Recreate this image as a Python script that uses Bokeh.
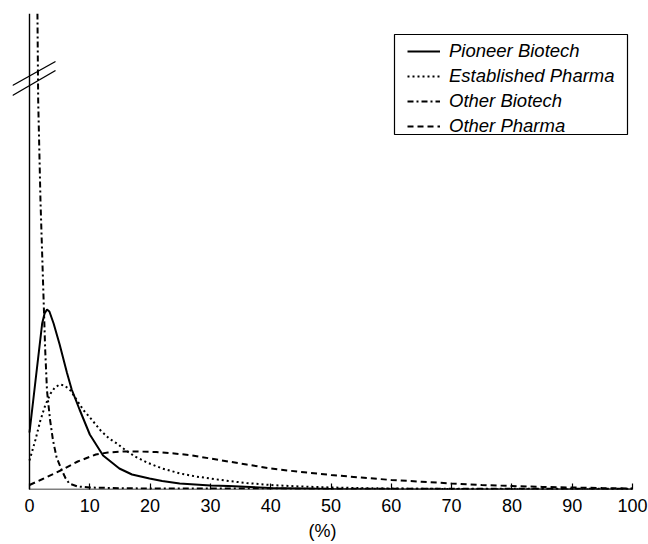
from bokeh.plotting import figure
from bokeh.models import Range1d, FixedTicker, Legend, LegendItem
from bokeh.embed import file_html
from bokeh.resources import INLINE

# ---- data (density curves, arbitrary height units) ----
pioneer_x = [0, 1, 2.1, 2.5, 2.9, 3.3, 4, 5, 6.2, 7, 8.3, 10, 12.2, 14.9, 17, 19.9, 22, 24.9, 30, 33, 40, 50, 60, 100]
pioneer_y = [57, 109, 166, 176, 180, 178, 166, 145, 117, 100, 80, 55, 34, 21, 15, 11, 8.5, 6, 4, 3.5, 1.5, 0.5, 0.2, 0]

established_x = [0, 1, 1.8, 2.6, 3.5, 4.2, 5, 5.8, 6.8, 8, 9, 10.3, 11.8, 13.2, 14.5, 16, 17.5, 19.5, 22, 25,
                 27.6, 30, 33, 36, 40, 45, 50, 55, 60, 70, 80, 90, 100]
established_y = [29, 50, 69, 84, 96, 102, 105, 104, 99, 88, 79, 70, 59, 51, 46, 39, 33, 27, 21, 16,
                 13, 11, 8.5, 6.5, 4.5, 3, 2, 1.4, 1, 0.5, 0.3, 0.1, 0]

other_biotech_x = [1.0, 1.44, 1.82, 2.38, 2.6, 2.9, 3.4, 3.9, 4.5, 5.3, 6, 6.6, 8, 10, 15, 20, 30, 50, 100]
other_biotech_y = [700, 389, 289, 182, 140, 99, 70, 49, 32, 20, 11, 6, 3, 2, 1.3, 1, 1, 0.8, 0.8]

other_pharma_x = [0, 2, 5.5, 8, 11, 13, 15.5, 18, 21, 24, 26.5, 30, 33, 36, 40, 45, 50, 55, 60, 65, 70, 75,
                  80, 85, 90, 95, 100]
other_pharma_y = [4.5, 10, 20, 28, 35, 37, 38, 38, 37.5, 36, 34.5, 31, 28, 25, 21, 17.5, 14.5, 12, 9.5,
                  7.8, 6, 4.5, 3.5, 2.6, 2, 1.4, 1]

x_ticks = [0, 10, 20, 30, 40, 50, 60, 70, 80, 90, 100]
series_names = ["Pioneer Biotech", "Established Pharma", "Other Biotech", "Other Pharma"]

# ---- layout helpers (pixel geometry of the frame) ----
PX_PER_UNIT = 6.03
X0_OFFSET = 17  # px between frame left and x = 0
FRAME_H = 476


def px_to_x(px_from_frame_left):
    return (px_from_frame_left - X0_OFFSET) / PX_PER_UNIT


p = figure(width=648, height=544, output_backend="svg", toolbar_location=None,
           x_range=Range1d(-X0_OFFSET / PX_PER_UNIT, 100), y_range=Range1d(0, FRAME_H),
           y_axis_location=None, min_border_left=12, min_border_right=16,
           min_border_top=13, min_border_bottom=55)
p.outline_line_color = None
p.xgrid.visible = False
p.ygrid.visible = False
p.background_fill_color = "white"

ax = p.xaxis[0]
ax.ticker = FixedTicker(ticks=x_ticks)
ax.axis_line_color = None
ax.major_tick_in = 6
ax.major_tick_out = 0
ax.major_tick_line_color = "black"
ax.major_tick_line_width = 1.2
ax.minor_tick_line_color = None
ax.major_label_text_font = "Liberation Sans"
ax.major_label_text_font_size = "18px"
ax.major_label_text_color = "black"
ax.major_label_standoff = 9
ax.axis_label = "(%)"
ax.axis_label_text_font = "Liberation Sans"
ax.axis_label_text_font_size = "18px"
ax.axis_label_text_font_style = "normal"
ax.axis_label_text_color = "black"
ax.axis_label_standoff = 6

# axes lines (baseline and broken y axis)
p.segment(x0=[0, 0], y0=[0, 0], x1=[100, 0], y1=[0, FRAME_H], line_color="black", line_width=1.4)
# axis-break marks
p.segment(x0=[px_to_x(0), px_to_x(0)], y0=[404, 394], x1=[px_to_x(43), px_to_x(43)], y1=[428, 419],
          line_color="black", line_width=1.4)

lw = 2
r1 = p.line(pioneer_x, pioneer_y, line_color="black", line_width=lw)
r2 = p.line(established_x, established_y, line_color="black", line_width=lw, line_dash="2 3")
r3 = p.line(other_biotech_x, other_biotech_y, line_color="black", line_width=lw, line_dash="6 3 2 3")
r4 = p.line(other_pharma_x, other_pharma_y, line_color="black", line_width=lw, line_dash="6 4")

# legend frame
p.quad(left=[px_to_x(382)], right=[px_to_x(615)], bottom=[489 - 134], top=[489 - 34],
       fill_color="white", line_color="black", line_width=1.2)

legend = Legend(items=[LegendItem(label=n, renderers=[r]) for n, r in zip(series_names, [r1, r2, r3, r4])],
                location=(395, 352), padding=0, margin=0, spacing=3,
                glyph_width=33, glyph_height=22, label_standoff=9,
                border_line_color=None, background_fill_alpha=0,
                label_text_font="Liberation Sans", label_text_font_style="italic",
                label_text_font_size="18.5px", label_text_color="black")
p.add_layout(legend, "center")

open("out.html", "w").write(file_html(p, INLINE))
